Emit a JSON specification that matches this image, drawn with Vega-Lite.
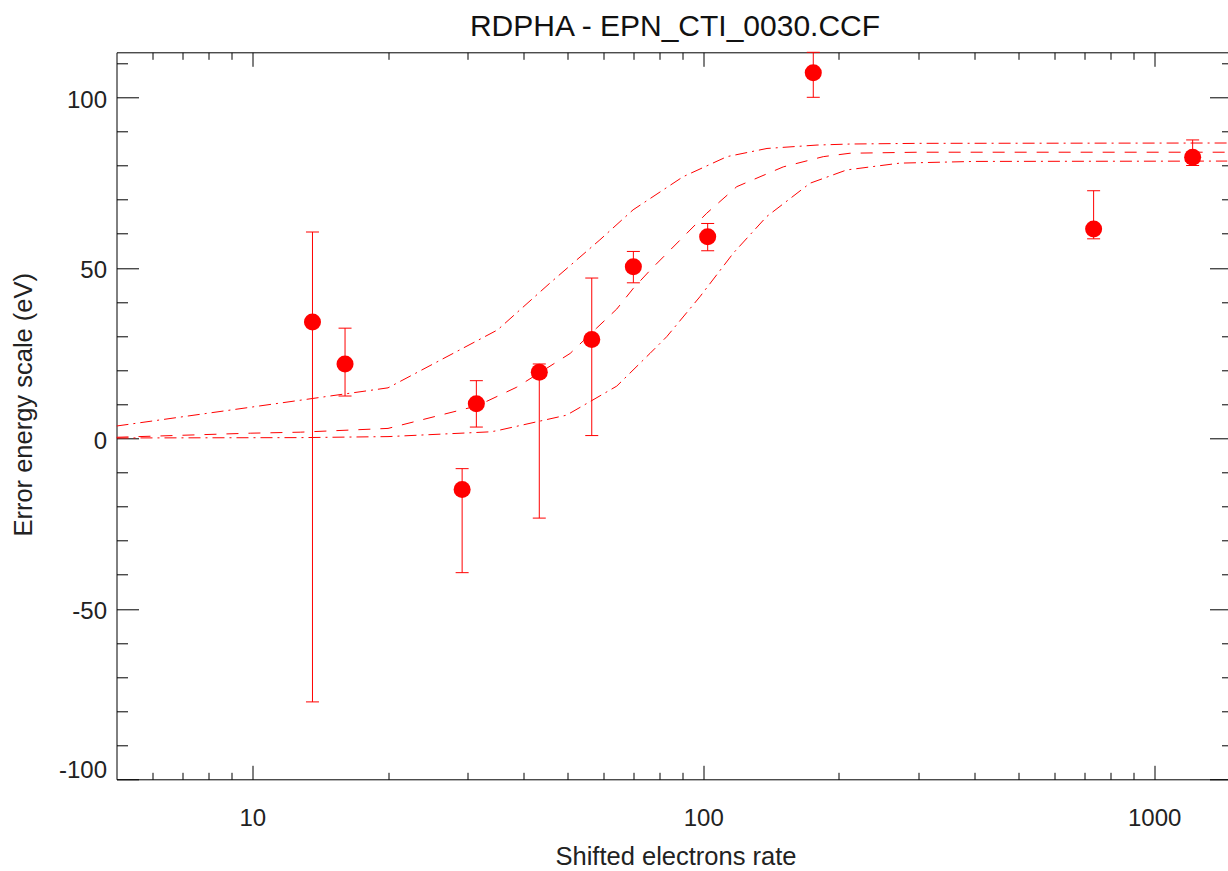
{
  "$schema": "https://vega.github.io/schema/vega-lite/v6.json",
  "width": 1111,
  "height": 727,
  "autosize": {"type": "none"},
  "padding": {"left": 116.5, "top": 52.3, "right": 0.5, "bottom": 91.7},
  "background": "white",
  "title": {
    "text": "RDPHA - EPN_CTI_0030.CCF",
    "font": "Liberation Sans",
    "fontSize": 30,
    "fontWeight": "normal",
    "color": "#111",
    "anchor": "middle",
    "baseline": "alphabetic",
    "offset": -16,
    "dx": 3
  },
  "config": {
    "view": {"stroke": null},
    "axis": {
      "grid": false,
      "domainColor": "#000",
      "domainWidth": 1,
      "tickColor": "#000",
      "tickWidth": 1,
      "labelFont": "Liberation Sans",
      "labelFontSize": 24,
      "labelColor": "#222",
      "titleFont": "Liberation Sans",
      "titleFontSize": 25.5,
      "titleFontWeight": "normal",
      "titleColor": "#222"
    }
  },
  "datasets": {
    "curves": [
      {"model": "upper", "rate": 5.0, "value": 3.6},
      {"model": "upper", "rate": 9.9, "value": 9.1},
      {"model": "upper", "rate": 20, "value": 14.8},
      {"model": "upper", "rate": 35, "value": 31.8},
      {"model": "upper", "rate": 45.7, "value": 45.5},
      {"model": "upper", "rate": 59, "value": 58.2},
      {"model": "upper", "rate": 69.9, "value": 67.0},
      {"model": "upper", "rate": 90.2, "value": 76.7},
      {"model": "upper", "rate": 112.9, "value": 82.6},
      {"model": "upper", "rate": 138.5, "value": 85.0},
      {"model": "upper", "rate": 178.8, "value": 86.0},
      {"model": "upper", "rate": 211.6, "value": 86.3},
      {"model": "upper", "rate": 300, "value": 86.5},
      {"model": "upper", "rate": 1454, "value": 86.6},
      {"model": "mid", "rate": 5.0, "value": 0.3},
      {"model": "mid", "rate": 9.9, "value": 1.5},
      {"model": "mid", "rate": 12.8, "value": 1.8},
      {"model": "mid", "rate": 20, "value": 2.9},
      {"model": "mid", "rate": 25.6, "value": 6.5},
      {"model": "mid", "rate": 31.5, "value": 9.5},
      {"model": "mid", "rate": 38.6, "value": 15.0},
      {"model": "mid", "rate": 50.7, "value": 24.9},
      {"model": "mid", "rate": 58.0, "value": 32.3},
      {"model": "mid", "rate": 64.3, "value": 37.9},
      {"model": "mid", "rate": 70.0, "value": 44.0},
      {"model": "mid", "rate": 76.4, "value": 49.4},
      {"model": "mid", "rate": 101.8, "value": 66.0},
      {"model": "mid", "rate": 118.7, "value": 73.8},
      {"model": "mid", "rate": 150.5, "value": 79.6},
      {"model": "mid", "rate": 184.6, "value": 82.6},
      {"model": "mid", "rate": 211.6, "value": 83.6},
      {"model": "mid", "rate": 300, "value": 83.9},
      {"model": "mid", "rate": 1454, "value": 83.9},
      {"model": "lower", "rate": 5.0, "value": 0.1},
      {"model": "lower", "rate": 12.8, "value": 0.2},
      {"model": "lower", "rate": 20, "value": 0.5},
      {"model": "lower", "rate": 33.7, "value": 1.9},
      {"model": "lower", "rate": 34.8, "value": 2.2},
      {"model": "lower", "rate": 49.8, "value": 6.8},
      {"model": "lower", "rate": 64.3, "value": 15.3},
      {"model": "lower", "rate": 76.2, "value": 24.9},
      {"model": "lower", "rate": 83.0, "value": 29.8},
      {"model": "lower", "rate": 98.3, "value": 41.5},
      {"model": "lower", "rate": 116.6, "value": 54.3},
      {"model": "lower", "rate": 138.2, "value": 65.0},
      {"model": "lower", "rate": 172.5, "value": 74.8},
      {"model": "lower", "rate": 208, "value": 78.7},
      {"model": "lower", "rate": 273, "value": 80.7},
      {"model": "lower", "rate": 400, "value": 81.2},
      {"model": "lower", "rate": 1454, "value": 81.3}
    ],
    "points": [
      {"rate": 13.6, "value": 34.1, "lo": -77.3, "hi": 60.5},
      {"rate": 16.06, "value": 21.8, "lo": 12.4, "hi": 32.3},
      {"rate": 29.2, "value": -15.0, "lo": -39.4, "hi": -8.9},
      {"rate": 31.4, "value": 10.15, "lo": 3.3, "hi": 16.9},
      {"rate": 43.3, "value": 19.35, "lo": -23.4, "hi": 21.8},
      {"rate": 56.6, "value": 29.0, "lo": 0.8, "hi": 47.0},
      {"rate": 70.0, "value": 50.3, "lo": 45.6, "hi": 54.8},
      {"rate": 102.3, "value": 59.1, "lo": 55.0, "hi": 63.0},
      {"rate": 175.4, "value": 107.2, "lo": 100.0, "hi": 113.2},
      {"rate": 734, "value": 61.4, "lo": 58.5, "hi": 72.6},
      {"rate": 1217, "value": 82.4, "lo": 80.0, "hi": 87.5}
    ]
  },
  "layer": [
    {
      "data": {"name": "curves"},
      "mark": {"type": "line", "strokeWidth": 1, "color": "#ff0000", "clip": true},
      "encoding": {
        "x": {
          "field": "rate", "type": "quantitative",
          "scale": {"type": "log", "domain": [5, 1454], "nice": false},
          "axis": {
            "orient": "bottom",
            "values": [6,7,8,9,10,20,30,40,50,60,70,80,90,100,200,300,400,500,600,700,800,900,1000],
            "labelExpr": "datum.value === 10 || datum.value === 100 || datum.value === 1000 ? '' + datum.value : ''",
            "tickSize": {"condition": {"test": "datum.value === 10 || datum.value === 100 || datum.value === 1000", "value": -14}, "value": -7},
            "labelOverlap": false,
            "labelFlush": false,
            "labelBaseline": "alphabetic",
            "labelPadding": 60.5,
            "title": "Shifted electrons rate",
            "titleX": 559,
            "titleY": 85,
            "titleAlign": "center",
            "titleBaseline": "alphabetic"
          }
        },
        "y": {
          "field": "value", "type": "quantitative",
          "scale": {"domain": [-100, 113.2], "nice": false, "zero": false},
          "axis": {
            "orient": "left",
            "values": [-100,-90,-80,-70,-60,-50,-40,-30,-20,-10,0,10,20,30,40,50,60,70,80,90,100,110],
            "labelExpr": "datum.value % 50 === 0 ? '' + datum.value : ''",
            "tickSize": {"condition": {"test": "datum.value % 50 === 0", "value": -22}, "value": -11},
            "labelOverlap": false,
            "labelFlush": true,
            "labelPadding": 32,
            "labelOffset": 3,
            "title": "Error energy scale (eV)",
            "titleX": -85.5,
            "titleY": 352,
            "titleAngle": 270,
            "titleAlign": "center",
            "titleBaseline": "alphabetic"
          }
        },
        "detail": {"field": "model"},
        "strokeDash": {
          "field": "model", "type": "nominal",
          "scale": {"domain": ["upper", "mid", "lower"], "range": [[12, 5, 2, 5], [12, 10], [12, 5, 2, 5]]},
          "legend": null
        }
      }
    },
    {
      "data": {"name": "points"},
      "mark": {"type": "rule", "color": "#ff0000", "strokeWidth": 1},
      "encoding": {
        "x": {
          "field": "rate", "type": "quantitative",
          "axis": {
            "orient": "top",
            "values": [6,7,8,9,10,20,30,40,50,60,70,80,90,100,200,300,400,500,600,700,800,900,1000],
            "labels": false,
            "tickSize": {"condition": {"test": "datum.value === 10 || datum.value === 100 || datum.value === 1000", "value": -14}, "value": -7},
            "title": null
          }
        },
        "y": {
          "field": "lo", "type": "quantitative",
          "axis": {
            "orient": "right",
            "values": [-100,-90,-80,-70,-60,-50,-40,-30,-20,-10,0,10,20,30,40,50,60,70,80,90,100,110],
            "labels": false,
            "domain": false,
            "tickSize": {"condition": {"test": "datum.value % 50 === 0", "value": -18}, "value": -6},
            "title": null
          }
        },
        "y2": {"field": "hi"}
      }
    },
    {
      "data": {"name": "points"},
      "mark": {"type": "point", "shape": "M-1,0L1,0", "size": 169, "filled": false, "strokeWidth": 1, "color": "#ff0000", "opacity": 1},
      "encoding": {
        "x": {"field": "rate", "type": "quantitative", "axis": null},
        "y": {"field": "hi", "type": "quantitative", "axis": null}
      }
    },
    {
      "data": {"name": "points"},
      "mark": {"type": "point", "shape": "M-1,0L1,0", "size": 169, "filled": false, "strokeWidth": 1, "color": "#ff0000", "opacity": 1},
      "encoding": {
        "x": {"field": "rate", "type": "quantitative", "axis": null},
        "y": {"field": "lo", "type": "quantitative", "axis": null}
      }
    },
    {
      "data": {"name": "points"},
      "mark": {"type": "circle", "size": 290, "color": "#ff0000", "opacity": 1},
      "encoding": {
        "x": {"field": "rate", "type": "quantitative", "axis": null},
        "y": {"field": "value", "type": "quantitative", "axis": null}
      }
    }
  ],
  "resolve": {"axis": {"x": "independent", "y": "independent"}}
}
